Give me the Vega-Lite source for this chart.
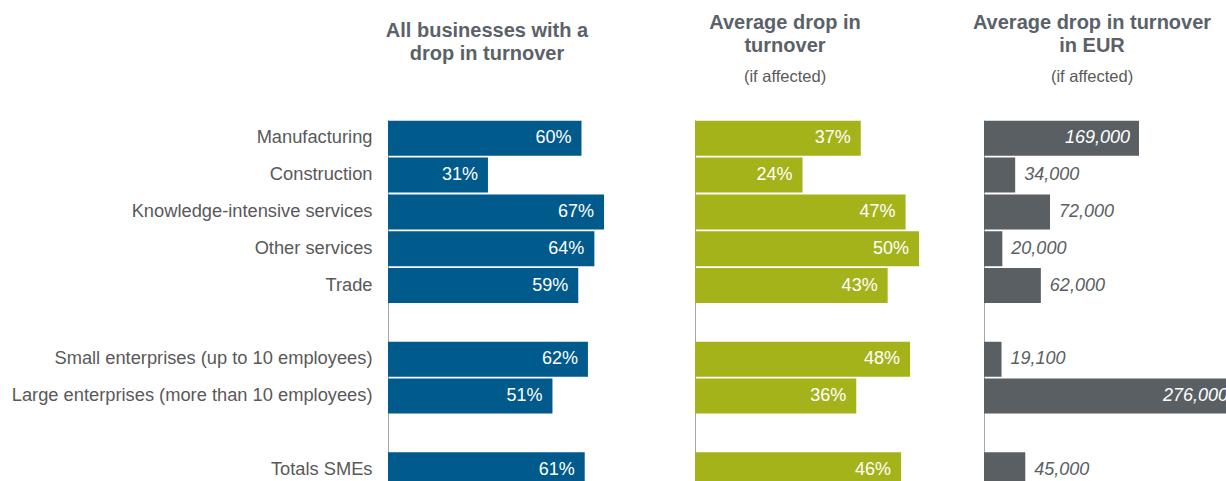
{
  "$schema": "https://vega.github.io/schema/vega-lite/v6.json",
  "background": "white",
  "padding": {"left": 11, "top": 12, "right": 0, "bottom": 0},
  "config": {
    "font": "Liberation Sans",
    "view": {"stroke": null},
    "title": {"fontSize": 20, "fontWeight": "bold", "color": "#5b6168", "lineHeight": 23, "subtitleFontSize": 16.5, "subtitleColor": "#595959", "subtitleFont": "Liberation Sans"},
    "axisY": {"domainColor": "#a6a6a6", "domainWidth": 1, "ticks": false, "grid": false, "title": null}
  },
  "data": {"values": [
    {"category": "Manufacturing", "pct": 0.60, "avg": 0.37, "eur": 169000},
    {"category": "Construction", "pct": 0.31, "avg": 0.24, "eur": 34000},
    {"category": "Knowledge-intensive services", "pct": 0.67, "avg": 0.47, "eur": 72000},
    {"category": "Other services", "pct": 0.64, "avg": 0.50, "eur": 20000},
    {"category": "Trade", "pct": 0.59, "avg": 0.43, "eur": 62000},
    {"category": "Small enterprises (up to 10 employees)", "pct": 0.62, "avg": 0.48, "eur": 19100},
    {"category": "Large enterprises (more than 10 employees)", "pct": 0.51, "avg": 0.36, "eur": 276000},
    {"category": "Totals SMEs", "pct": 0.61, "avg": 0.46, "eur": 45000}
  ]},
  "bounds": "flush",
  "spacing": 20,
  "hconcat": [
    {
      "width": 287, "height": 368,
      "title": {"text": ["All businesses with a", "drop in turnover"], "anchor": "start", "frame": "group", "align": "center", "dx": 99, "offset": 56},
      "encoding": {
        "y": {"field": "category", "type": "nominal", "sort": null,
          "scale": {"domain": ["Manufacturing", "Construction", "Knowledge-intensive services", "Other services", "Trade", " ", "Small enterprises (up to 10 employees)", "Large enterprises (more than 10 employees)", "  ", "Totals SMEs"], "paddingInner": 0.05, "paddingOuter": 0.02},
          "axis": {"labelFontSize": 18.3, "labelColor": "#595959", "labelPadding": 16, "labelLimit": 500}},
        "x": {"field": "pct", "type": "quantitative", "scale": {"domain": [0, 0.89]}, "axis": null}
      },
      "layer": [
        {"mark": {"type": "bar", "color": "#005a8c"}},
        {"mark": {"type": "text", "align": "right", "dx": -10, "color": "white", "fontSize": 18}, "encoding": {"text": {"field": "pct", "format": ".0%"}}}
      ]
    },
    {
      "width": 269, "height": 368,
      "title": {"text": ["Average drop in", "turnover"], "subtitle": "(if affected)", "anchor": "start", "frame": "group", "align": "center", "dx": 90, "offset": 35, "subtitlePadding": 13},
      "encoding": {
        "y": {"field": "category", "type": "nominal", "sort": null,
          "scale": {"domain": ["Manufacturing", "Construction", "Knowledge-intensive services", "Other services", "Trade", " ", "Small enterprises (up to 10 employees)", "Large enterprises (more than 10 employees)", "  ", "Totals SMEs"], "paddingInner": 0.05, "paddingOuter": 0.02},
          "axis": {"labels": false}},
        "x": {"field": "avg", "type": "quantitative", "scale": {"domain": [0, 0.6004]}, "axis": null}
      },
      "layer": [
        {"mark": {"type": "bar", "color": "#a5b31b"}},
        {"mark": {"type": "text", "align": "right", "dx": -10, "color": "white", "fontSize": 18}, "encoding": {"text": {"field": "avg", "format": ".0%"}}}
      ]
    },
    {
      "width": 260, "height": 368,
      "title": {"text": ["Average drop in turnover", "in EUR"], "subtitle": "(if affected)", "anchor": "start", "frame": "group", "align": "center", "dx": 108, "offset": 35, "subtitlePadding": 13},
      "encoding": {
        "y": {"field": "category", "type": "nominal", "sort": null,
          "scale": {"domain": ["Manufacturing", "Construction", "Knowledge-intensive services", "Other services", "Trade", " ", "Small enterprises (up to 10 employees)", "Large enterprises (more than 10 employees)", "  ", "Totals SMEs"], "paddingInner": 0.05, "paddingOuter": 0.02},
          "axis": {"labels": false}},
        "x": {"field": "eur", "type": "quantitative", "scale": {"domain": [0, 283500]}, "axis": null}
      },
      "layer": [
        {"mark": {"type": "bar", "color": "#5a5f64"}},
        {"transform": [{"filter": "datum.eur > 100000"}], "mark": {"type": "text", "align": "right", "dx": -9, "color": "white", "fontSize": 18, "fontStyle": "italic"}, "encoding": {"text": {"field": "eur", "format": ",d"}}},
        {"transform": [{"filter": "datum.eur <= 100000"}], "mark": {"type": "text", "align": "left", "dx": 9, "color": "#5a5f64", "fontSize": 18, "fontStyle": "italic"}, "encoding": {"text": {"field": "eur", "format": ",d"}}}
      ]
    }
  ]
}
